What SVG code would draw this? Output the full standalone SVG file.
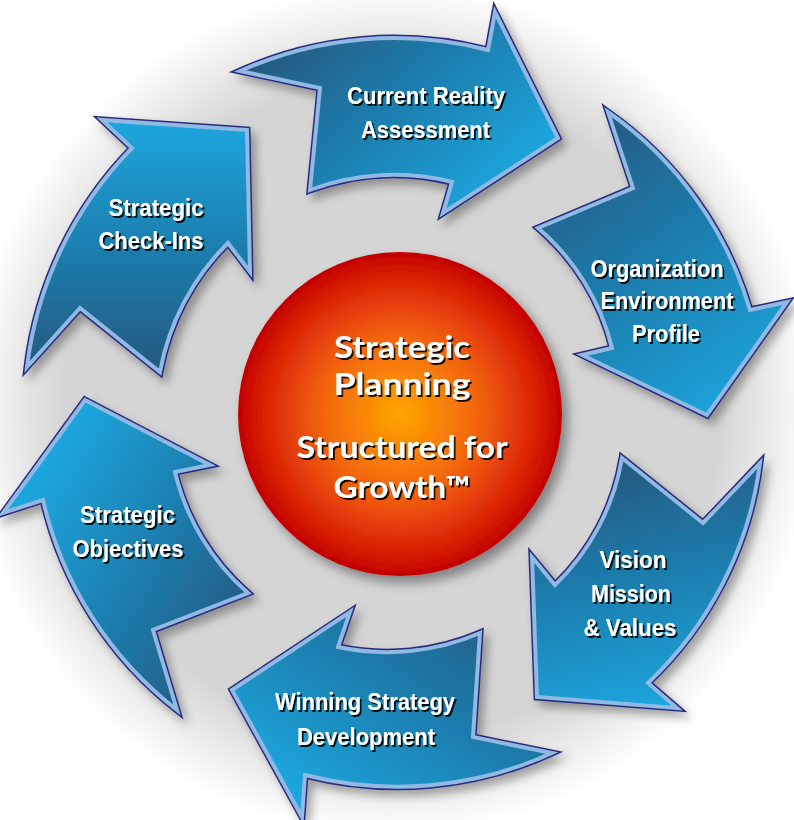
<svg xmlns="http://www.w3.org/2000/svg" xmlns:xlink="http://www.w3.org/1999/xlink" width="794" height="820" viewBox="0 0 794 820">
<style>
.outline{fill:none;stroke:#2b2c7c;stroke-width:7;stroke-linejoin:miter;stroke-miterlimit:10}
.face{stroke:#90b9e4;stroke-width:4;stroke-linejoin:miter;stroke-miterlimit:10}
.lbl{font-family:"Liberation Sans",Arial,sans-serif;font-weight:bold;font-size:24px;fill:#ffffff;text-anchor:middle;filter:url(#ts)}
.ctr{font-family:Lato,"Open Sans",sans-serif;font-weight:bold;font-size:30px;fill:#ffffff;text-anchor:middle;filter:url(#ts)}
.node{filter:url(#ds)}
</style>
<defs>
<radialGradient id="bg" gradientUnits="userSpaceOnUse" cx="392" cy="410" r="425">
<stop offset="0" stop-color="#d5d5d5"/>
<stop offset="0.77" stop-color="#d5d5d5"/>
<stop offset="1" stop-color="#ffffff"/>
</radialGradient>
<radialGradient id="ball" cx="0.5" cy="0.5" r="0.5">
<stop offset="0" stop-color="#ffa600"/>
<stop offset="0.5" stop-color="#f2620e"/>
<stop offset="0.86" stop-color="#d81e04"/>
<stop offset="1" stop-color="#c20000"/>
</radialGradient>
<linearGradient id="g1" x1="0.05" y1="0.2" x2="0.9" y2="0.8"><stop offset="0" stop-color="#225880"/><stop offset="1" stop-color="#1aa6de"/></linearGradient>
<linearGradient id="g2" x1="0.2" y1="0" x2="0.8" y2="1"><stop offset="0" stop-color="#225880"/><stop offset="1" stop-color="#1aa6de"/></linearGradient>
<linearGradient id="g3" x1="0.4" y1="0" x2="0.6" y2="1"><stop offset="0" stop-color="#225880"/><stop offset="1" stop-color="#1aa6de"/></linearGradient>
<linearGradient id="g4" x1="1" y1="0.1" x2="0.2" y2="0.9"><stop offset="0" stop-color="#225880"/><stop offset="1" stop-color="#1aa6de"/></linearGradient>
<linearGradient id="g5" x1="0.1" y1="0.3" x2="0.9" y2="0.9"><stop offset="0" stop-color="#1aa6de"/><stop offset="1" stop-color="#225880"/></linearGradient>
<linearGradient id="g6" x1="0.5" y1="0" x2="0.5" y2="1"><stop offset="0" stop-color="#1aa6de"/><stop offset="1" stop-color="#225880"/></linearGradient>
<filter id="ds" x="-20%" y="-20%" width="140%" height="140%">
<feDropShadow dx="5" dy="6" stdDeviation="5" flood-color="#000" flood-opacity="0.33"/>
</filter>
<filter id="cs" x="-20%" y="-20%" width="140%" height="140%">
<feDropShadow dx="6" dy="7" stdDeviation="6" flood-color="#000" flood-opacity="0.4"/>
</filter>
<filter id="ts" x="-10%" y="-30%" width="120%" height="160%">
<feDropShadow dx="1.8" dy="2" stdDeviation="0.6" flood-color="#000" flood-opacity="0.9"/>
</filter>
<path id="p1" d="M240,71 A376,376 0 0 1 488,50 L495,12 L558,138 L443,213 L452,182 A240,240 0 0 0 310,190 L320,88 Z"/>
<path id="p2" d="M608,112 L633,188 L538,228 A230,230 0 0 1 612,348 L582,355 L707,415 L787,302 L750,310 A366,366 0 0 0 608,112 Z"/>
<path id="p3" d="M622,458 L703,523 L760,463 A366,366 0 0 1 648,683 L677,708 L537,697 L532,557 L555,585 A230,230 0 0 0 622,458 Z"/>
<path id="p4" d="M480,633 A236,236 0 0 1 338,647 L350,612 L232,690 L302,817 L305,775 A372,372 0 0 0 552,753 L473,737 Z"/>
<path id="p5" d="M85,400 L210,465 L175,472 A233,233 0 0 0 248,593 L153,630 L177,710 A370,370 0 0 1 43,500 L3,513 Z"/>
<path id="p6" d="M247,130 L102,120 L132,148 A377,377 0 0 0 27,367 L80,308 L160,372 A243,243 0 0 1 228,243 L250,272 Z"/>
</defs>
<rect id="background" x="0" y="0" width="794" height="820" fill="url(#bg)"/>
<g id="connectors"/>
<g id="center" filter="url(#cs)">
<circle cx="400" cy="414" r="162" fill="url(#ball)"/>
</g>
<g id="center-label">
<text class="ctr" x="402" y="358" textLength="136" lengthAdjust="spacingAndGlyphs">Strategic</text>
<text class="ctr" x="402" y="395" textLength="137" lengthAdjust="spacingAndGlyphs">Planning</text>
<text class="ctr" x="402" y="458" textLength="211" lengthAdjust="spacingAndGlyphs">Structured for</text>
<text class="ctr" x="402" y="498" textLength="137" lengthAdjust="spacingAndGlyphs">Growth™</text>
</g>
<g id="current-reality">
<g class="node"><use xlink:href="#p1" class="outline"/><use xlink:href="#p1" class="face" fill="url(#g1)"/></g>
<text class="lbl" x="426" y="104" textLength="158" lengthAdjust="spacingAndGlyphs">Current Reality</text>
<text class="lbl" x="425.5" y="138" textLength="129" lengthAdjust="spacingAndGlyphs">Assessment</text>
</g>
<g id="organization-environment">
<g class="node"><use xlink:href="#p2" class="outline"/><use xlink:href="#p2" class="face" fill="url(#g2)"/></g>
<text class="lbl" x="657" y="277" textLength="133" lengthAdjust="spacingAndGlyphs">Organization</text>
<text class="lbl" x="667" y="309" textLength="133" lengthAdjust="spacingAndGlyphs">Environment</text>
<text class="lbl" x="666" y="342" textLength="68" lengthAdjust="spacingAndGlyphs">Profile</text>
</g>
<g id="vision-mission">
<g class="node"><use xlink:href="#p3" class="outline"/><use xlink:href="#p3" class="face" fill="url(#g3)"/></g>
<text class="lbl" x="633" y="568" textLength="67" lengthAdjust="spacingAndGlyphs">Vision</text>
<text class="lbl" x="631" y="602" textLength="80" lengthAdjust="spacingAndGlyphs">Mission</text>
<text class="lbl" x="630" y="636" textLength="93" lengthAdjust="spacingAndGlyphs">&amp; Values</text>
</g>
<g id="winning-strategy">
<g class="node"><use xlink:href="#p4" class="outline"/><use xlink:href="#p4" class="face" fill="url(#g4)"/></g>
<text class="lbl" x="365" y="710" textLength="180" lengthAdjust="spacingAndGlyphs">Winning Strategy</text>
<text class="lbl" x="366" y="745" textLength="138" lengthAdjust="spacingAndGlyphs">Development</text>
</g>
<g id="strategic-objectives">
<g class="node"><use xlink:href="#p5" class="outline"/><use xlink:href="#p5" class="face" fill="url(#g5)"/></g>
<text class="lbl" x="127.5" y="523" textLength="95" lengthAdjust="spacingAndGlyphs">Strategic</text>
<text class="lbl" x="128" y="557" textLength="111" lengthAdjust="spacingAndGlyphs">Objectives</text>
</g>
<g id="strategic-check-ins">
<g class="node"><use xlink:href="#p6" class="outline"/><use xlink:href="#p6" class="face" fill="url(#g6)"/></g>
<text class="lbl" x="156" y="216" textLength="95" lengthAdjust="spacingAndGlyphs">Strategic</text>
<text class="lbl" x="151" y="249" textLength="105" lengthAdjust="spacingAndGlyphs">Check-Ins</text>
</g>
</svg>
